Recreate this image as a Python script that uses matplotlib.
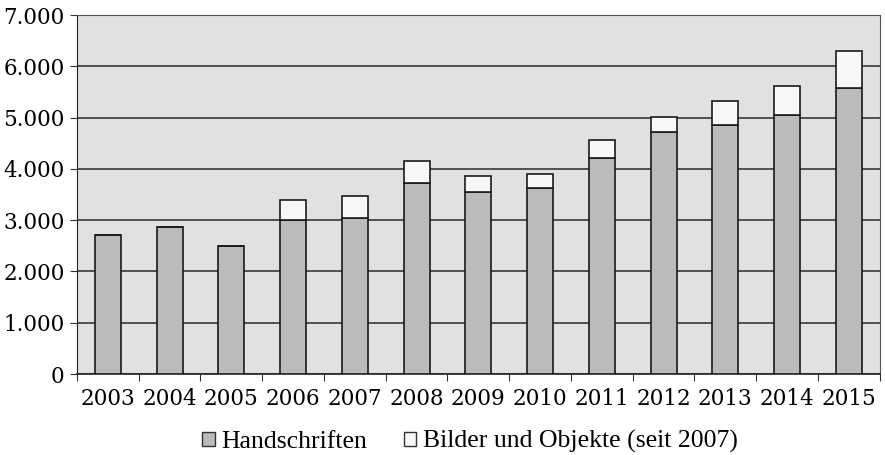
import numpy as np
import matplotlib
matplotlib.use("Agg")
import matplotlib.pyplot as plt
from matplotlib.patches import Patch
from matplotlib.ticker import FuncFormatter

# --- data ---
years = ["2003", "2004", "2005", "2006", "2007", "2008", "2009",
         "2010", "2011", "2012", "2013", "2014", "2015"]
handschriften = [2720, 2870, 2500, 3000, 3050, 3730, 3555,
                 3625, 4210, 4720, 4860, 5045, 5570]
bilder = [0, 0, 0, 400, 425, 430, 305, 280, 350, 295, 460, 575, 730]
labels = ["Handschriften", "Bilder und Objekte (seit 2007)"]

plt.rcParams["font.family"] = ["Liberation Serif", "DejaVu Serif"]
TICKFONT = "DejaVu Serif"

fig = plt.figure(figsize=(8.85, 4.55), dpi=100)
ax = fig.add_axes([0.087, 0.178, 0.907, 0.789])
ax.set_facecolor("#e1e1e1")

x = np.arange(len(years))
w = 0.42
ax.bar(x, handschriften, w, color="#bbbbba", edgecolor="#1a1a1a",
       linewidth=1.2, zorder=3)
ax.bar(x, bilder, w, bottom=handschriften, color="#f8f8f6",
       edgecolor="#1a1a1a", linewidth=1.2, zorder=3)

ax.set_ylim(0, 7000)
ax.set_xlim(-0.5, len(years) - 0.5)
ax.set_yticks(np.arange(0, 7001, 1000))
ax.yaxis.set_major_formatter(
    FuncFormatter(lambda v, p: f"{int(v):,}".replace(",", ".")))
ax.grid(axis="y", color="#2a2a2a", linewidth=1.1, zorder=1)

# ticks between categories, labels centred under bars
ax.set_xticks(np.arange(-0.5, len(years), 1.0))
ax.set_xticklabels([])
ax.set_xticks(x, minor=True)
ax.set_xticklabels(years, minor=True)
ax.tick_params(axis="x", which="minor", length=0, pad=10)
ax.tick_params(axis="x", which="major", length=5, direction="out",
               color="#333333")
ax.tick_params(axis="y", length=5, direction="out", pad=4, color="#333333")
for t in ax.get_xticklabels(minor=True) + ax.get_yticklabels():
    t.set_fontfamily(TICKFONT)
    t.set_fontsize(15.5)

for side in ["top", "right"]:
    ax.spines[side].set_color("#555555")
ax.spines["left"].set_color("#222222")
ax.spines["bottom"].set_color("#222222")
ax.spines["bottom"].set_linewidth(1.2)

handles = [Patch(facecolor="#bbbbba", edgecolor="#333333"),
           Patch(facecolor="#f8f8f6", edgecolor="#333333")]
fig.legend(handles, labels, loc="lower center", bbox_to_anchor=(0.531, -0.047),
           ncol=2, frameon=False, fontsize=18.5, handlelength=0.48,
           handleheight=0.48, handletextpad=0.25, columnspacing=1.45)

fig.savefig("out.png", dpi=100)
